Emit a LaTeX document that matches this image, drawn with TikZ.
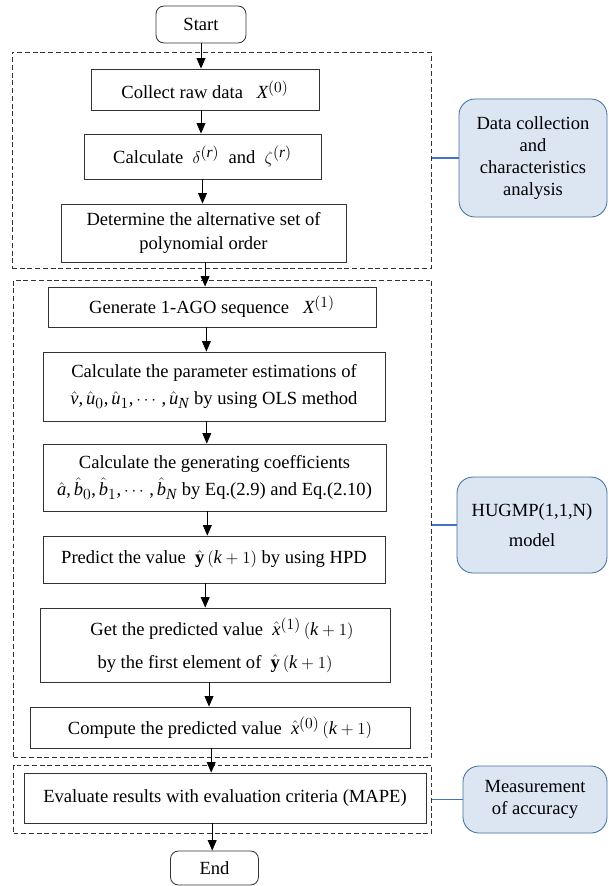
\documentclass[tikz,border=0pt]{standalone}
\usepackage{amsmath}
\usepackage{amssymb}
\usepackage{fontspec}
\setmainfont{Liberation Serif}
\usepackage[italic]{mathastext}
\usepackage{tikz}
\usetikzlibrary{arrows.meta,positioning,shapes,calc}
\definecolor{sidefill}{RGB}{220,230,242}
\definecolor{sidedraw}{RGB}{65,113,156}
\definecolor{linkblue}{RGB}{68,114,196}

\begin{document}
\begin{tikzpicture}[
  x=0.25mm, y=-0.25mm,
  every node/.style={font=\fontsize{13.2pt}{15.5pt}\selectfont},
  box/.style={rectangle, draw=black!80, line width=0.6pt, inner sep=1pt, align=center},
  term/.style={box, rounded corners=2mm},
  group/.style={rectangle, draw=black!80, line width=0.7pt, dash pattern=on 3.5pt off 2pt, inner sep=0pt},
  side/.style={rectangle, rounded corners=4mm, draw=sidedraw, fill=sidefill, line width=0.6pt, align=center, inner sep=1pt},
  arrow/.style={-{Triangle[width=2.2mm,length=2.6mm]}, line width=0.6pt},
  link/.style={draw=linkblue, line width=0.8pt}
]
\useasboundingbox (0,0) rectangle (608,886);

% Dashed groups
\node[group, minimum width=104.75mm, minimum height=54mm] (d1) at (221.5,160) {};
\node[group, minimum width=104.6mm, minimum height=119.25mm] (d2) at (222.75,518.5) {};
\node[group, minimum width=104.6mm, minimum height=17mm] (d3) at (222.75,799) {};

% Start / End
\node[term, minimum width=22.5mm, minimum height=9.25mm] (start) at (201,24.5) {Start};
\node[term, minimum width=22mm, minimum height=8.5mm] (end) at (214.5,868) {End};

% Data collection
\node[box, minimum width=57mm, minimum height=10.25mm] (collect) at (205,89.5) {Collect raw data \ \ $X^{(0)}$};
\node[box, minimum width=59.25mm, minimum height=11.25mm] (calcdelta) at (202.5,156.5) {Calculate \ $\delta^{(r)}$ \ and \ $\zeta^{(r)}$};
\node[box, minimum width=71.25mm, minimum height=14.5mm, font=\fontsize{13.2pt}{17pt}\selectfont] (determine) at (203.5,233) {Determine the alternative set of\\polynomial order};

% Model
\node[box, minimum width=82mm, minimum height=10mm] (generate) at (212,307) {Generate 1-AGO sequence \ \ $X^{(1)}$};
\node[box, minimum width=85.5mm, minimum height=17.25mm, font=\fontsize{13.2pt}{19.5pt}\selectfont] (estimate) at (214,386.5) {Calculate the parameter estimations of\\$\hat{v},\hat{u}_0,\hat{u}_1,\cdots,\hat{u}_N$ by using OLS method};
\node[box, minimum width=85.75mm, minimum height=16.75mm, font=\fontsize{13.2pt}{19.5pt}\selectfont] (coeff) at (214.5,477.5) {Calculate the generating coefficients\\$\hat{a},\hat{b}_0,\hat{b}_1,\cdots,\hat{b}_N$ by Eq.(2.9) and Eq.(2.10)};
\node[box, minimum width=85.5mm, minimum height=11.75mm] (predict) at (214,559.5) {Predict the value \ $\hat{\mathbf{y}}\left(k+1\right)$ by using HPD};
\node[box, minimum width=87.5mm, minimum height=18.5mm, font=\fontsize{13.2pt}{23.5pt}\selectfont] (getx) at (215,645) {\ \ \ Get the predicted value \ $\hat{x}^{(1)}\left(k+1\right)$\\by the first element of \ $\hat{\mathbf{y}}\left(k+1\right)$};
\node[box, minimum width=95mm, minimum height=10.25mm] (compute) at (220,727.5) {Compute the predicted value \ $\hat{x}^{(0)}\left(k+1\right)$};

% Evaluation
\node[box, minimum width=100.5mm, minimum height=12.5mm] (evaluate) at (225,798) {Evaluate results with evaluation criteria (MAPE)};

% Side notes
\node[side, minimum width=37mm, minimum height=29.5mm] (datanote) at (533,158) {Data collection\\and\\characteristics\\analysis};
\node[side, minimum width=37.5mm, minimum height=24mm, font=\fontsize{13.2pt}{21.5pt}\selectfont] (modelnote) at (532,525) {HUGMP(1,1,N)\\model};
\node[side, minimum width=36mm, minimum height=16.75mm, font=\fontsize{13.2pt}{16pt}\selectfont] (accnote) at (535,799.5) {Measurement\\of accuracy};

% Arrows
\draw[arrow] (start.south) -- (start.south |- collect.north);
\draw[arrow] ([xshift=-1mm]collect.south) -- ([xshift=-1mm]collect.south |- calcdelta.north);
\draw[arrow] (calcdelta.south) -- (calcdelta.south |- determine.north);
\draw[arrow] ([xshift=0.4mm]determine.south) -- ([xshift=0.4mm]determine.south |- generate.north);
\draw[arrow] ([xshift=-1.4mm]generate.south) -- ([xshift=-1.4mm]generate.south |- estimate.north);
\draw[arrow] ([xshift=-1.8mm]estimate.south) -- ([xshift=-1.8mm]estimate.south |- coeff.north);
\draw[arrow] ([xshift=-1.8mm]coeff.south) -- ([xshift=-1.8mm]coeff.south |- predict.north);
\draw[arrow] ([xshift=-2.2mm]predict.south) -- ([xshift=-2.2mm]predict.south |- getx.north);
\draw[arrow] ([xshift=-1.5mm]getx.south) -- ([xshift=-1.5mm]getx.south |- compute.north);
\draw[arrow] ([xshift=-2.2mm]compute.south) -- ([xshift=-2.2mm]compute.south |- evaluate.north);
\draw[arrow] ([xshift=-3.2mm]evaluate.south) -- ([xshift=-3.2mm]evaluate.south |- end.north);

% Links to side notes
\draw[link] (d1.east |- datanote.west) -- (datanote.west);
\draw[link] (d2.east |- modelnote.west) -- (modelnote.west);
\draw[link] (d3.east |- accnote.west) -- (accnote.west);

\end{tikzpicture}
\end{document}
